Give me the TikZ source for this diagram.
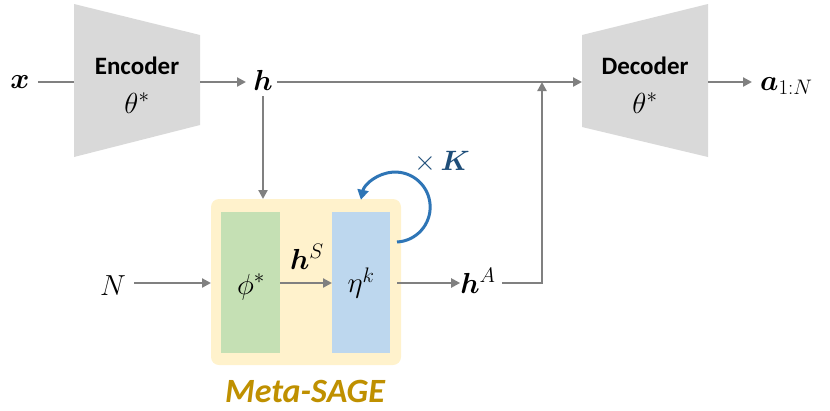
\RequirePackage{fix-cm}
\documentclass[tikz,border=0pt]{standalone}
\usepackage{amsmath}
\usepackage{bm}
\usepackage{fontspec}
\newfontfamily\calibri{Carlito}
\usetikzlibrary{arrows.meta}
\DeclareMathSizes{29}{29}{21}{16}
\DeclareMathSizes{28}{28}{20}{15}
\definecolor{trap}{HTML}{D9D9D9}
\definecolor{conn}{HTML}{808080}
\definecolor{ybox}{HTML}{FFF2CC}
\definecolor{gbox}{HTML}{C5E0B4}
\definecolor{bbox}{HTML}{BDD7EE}
\definecolor{loopc}{HTML}{2E75B6}
\definecolor{kcol}{HTML}{1F4E79}
\definecolor{gold}{HTML}{BF9000}
\tikzset{
  conn/.style={draw=conn, line width=2.2pt},
  arr/.style={conn, -{Triangle[length=9pt,width=9pt]}},
  mlabel/.style={font=\fontsize{29}{34}\selectfont, inner sep=0pt},
  blk/.style={font=\calibri\bfseries\fontsize{25}{28}\selectfont, inner sep=0pt},
}
\begin{document}
\begin{tikzpicture}[x=1pt,y=-1pt]
\useasboundingbox (0,0) rectangle (830,410);
% encoder / decoder trapezoids
\fill[trap] (74,4) -- (200,35) -- (200,125) -- (74,157) -- cycle;
\fill[trap] (582,35) -- (708,4) -- (708,157) -- (582,127) -- cycle;
\coordinate (encL) at (74,82);
\coordinate (encR) at (200,82);
\coordinate (decL) at (582,82);
\coordinate (decR) at (708,82);
\node[blk] (enct) at (137,66) {Encoder};
\node[mlabel] (encth) at (137,103) {$\theta^*$};
\node[blk] (dect) at (645,66) {Decoder};
\node[mlabel] (decth) at (645,103) {$\theta^*$};
% labels
\node[mlabel] (x) at (20,82) {$\bm{x}$};
\node[mlabel] (h) at (263,80) {$\bm{h}$};
\node[mlabel, anchor=west] (a) at (760,86) {$\bm{a}_{1:N}$};
\node[mlabel] (N) at (113,286) {$N$};
\node[mlabel] (hA) at (478,281) {$\bm{h}^{A}$};
% meta-sage box
\fill[ybox, rounded corners=8pt] (211,199) rectangle (401,365);
\fill[gbox] (221,212) rectangle (280,353);
\fill[bbox] (332,212) rectangle (390,353);
\coordinate (gR) at (280,283);
\coordinate (bL) at (332,283); \coordinate (bR) at (397,283);
\coordinate (yL) at (211,283);
\coordinate (yT) at (263,199);
\node[mlabel] (phi) at (251,287) {$\phi^*$};
\node[mlabel] (eta) at (361,283) {$\eta^k$};
\node[mlabel] (hS) at (307,257) {$\bm{h}^{S}$};
\node[font=\calibri\bfseries\itshape\fontsize{34}{38}\selectfont, text=gold, inner sep=0pt] (ms) at (305,391) {Meta-SAGE};
\node[font=\fontsize{28}{32}\selectfont, text=kcol, inner sep=0pt] (xk) at (442,162) {$\times\,\bm{K}$};
% connectors
\coordinate (j) at (542,82);
\coordinate (jb) at (542,283);
\draw[conn] (x.east |- encL) ++(8,0) -- (encL);
\draw[arr] (encR) -- (246,82);
\draw[arr] (h.east |- decL) ++(4,0) -- (decL);
\draw[arr] (decR) -- (752,82);
\draw[arr] (h.south) ++(0,6) -- (yT);
\draw[arr] (N.east |- yL) ++(8,0) -- (yL);
\draw[arr] (gR) -- (bL);
\draw[arr] (bR) -- (hA.west |- bR);
\draw[arr] (hA.east |- jb) ++(6,0) -- (jb) -- (j);
% loop
\draw[loopc, line width=3pt, -{Triangle[length=10pt,width=11pt]}] (397,242) arc[start angle=87, end angle=-168, radius=35];
\end{tikzpicture}
\end{document}
